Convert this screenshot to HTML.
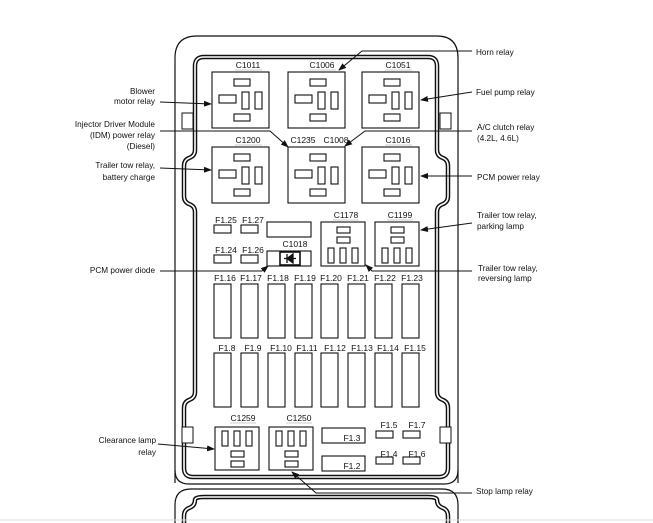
<!DOCTYPE html>
<html><head><meta charset="utf-8"><style>
html,body{margin:0;padding:0;background:#fff;}
svg{display:block;font-family:"Liberation Sans",sans-serif;}
text{font-size:8.5px;fill:#111;}
.lb{font-size:8.2px;}
</style></head><body>
<svg width="653" height="523" viewBox="0 0 653 523">
<defs>
<marker id="a" markerWidth="8" markerHeight="6" refX="7" refY="3" orient="auto" markerUnits="userSpaceOnUse"><path d="M0,0 L8,3 L0,6 z" fill="#111"/></marker>
</defs>
<g fill="none" stroke="#111">
<path d="M175,483 V58 Q175,36 197,36 H437 Q458,36 458,58 V483" stroke-width="1.2"/>
<path d="M175,470 Q175,484 189,484 H444 Q458,484 458,470" stroke-width="1.2"/>
<path d="M204,57 H428 Q437,57 437,66 V150 Q437,156 443,158 Q448,160 448,166 V196 Q448,202 443,204 Q437,206 437,212 V392 Q437,398 443,400 Q448,402 448,408 V468 Q448,477 439,477 H193 Q184,477 184,468 V408 Q184,402 189,400 Q195,398 195,392 V212 Q195,206 189,204 Q184,202 184,196 V166 Q184,160 189,158 Q195,156 195,150 V66 Q195,57 204,57 Z" stroke-width="4.5"/>
<path d="M204,57 H428 Q437,57 437,66 V150 Q437,156 443,158 Q448,160 448,166 V196 Q448,202 443,204 Q437,206 437,212 V392 Q437,398 443,400 Q448,402 448,408 V468 Q448,477 439,477 H193 Q184,477 184,468 V408 Q184,402 189,400 Q195,398 195,392 V212 Q195,206 189,204 Q184,202 184,196 V166 Q184,160 189,158 Q195,156 195,150 V66 Q195,57 204,57 Z" stroke="#fff" stroke-width="1.6"/>
<path d="M175,523 V505 Q175,489 191,489 H442 Q458,489 458,505 V523" stroke-width="1.2"/>
<path d="M184,523 V516 Q184,510 189,508 Q195,506 195,500 Q195,497 204,497 H428 Q437,497 437,500 Q437,506 443,508 Q448,510 448,516 V523" stroke-width="4.5"/>
<path d="M184,523 V516 Q184,510 189,508 Q195,506 195,500 Q195,497 204,497 H428 Q437,497 437,500 Q437,506 443,508 Q448,510 448,516 V523" stroke="#fff" stroke-width="1.6"/>
<rect x="182" y="113" width="11" height="16" fill="#fff"/>
<rect x="440" y="113" width="11" height="16" fill="#fff"/>
<rect x="182" y="427" width="11" height="16" fill="#fff"/>
<rect x="440" y="427" width="11" height="16" fill="#fff"/>
</g>
<line x1="0" y1="520" x2="653" y2="520" stroke="#ddd" stroke-width="1"/>

<g fill="none" stroke="#111" stroke-width="1.1">
<g id="r1">
<rect x="212" y="72" width="57" height="56"/>
<rect x="234" y="79" width="16" height="7"/>
<rect x="219" y="95" width="17" height="8"/>
<rect x="242" y="92" width="7" height="17"/>
<rect x="255" y="92" width="7" height="17"/>
<rect x="234" y="114" width="16" height="7"/>
</g>
<use href="#r1" x="76" y="0"/>
<use href="#r1" x="150" y="0"/>
<use href="#r1" x="0" y="75"/>
<use href="#r1" x="76" y="75"/>
<use href="#r1" x="150" y="75"/>
<rect x="214" y="225" width="17" height="8"/>
<rect x="241" y="225" width="17" height="8"/>
<rect x="214" y="255" width="17" height="8"/>
<rect x="241" y="255" width="17" height="8"/>
<rect x="267" y="222" width="44" height="15"/>
<rect x="267" y="251" width="44" height="15"/>
<rect x="280" y="252" width="20" height="13" stroke-width="1.6"/>
<g id="r2">
<rect x="321" y="222" width="44" height="44"/>
<rect x="337" y="227" width="13" height="6"/>
<rect x="337" y="237" width="13" height="6"/>
<rect x="328" y="248" width="6" height="15"/>
<rect x="340" y="248" width="6" height="15"/>
<rect x="352" y="248" width="6" height="15"/>
</g>
<use href="#r2" x="54" y="0"/>
<g id="r3">
<rect x="215" y="427" width="44" height="43"/>
<rect x="222" y="431" width="6" height="15"/>
<rect x="234" y="431" width="6" height="15"/>
<rect x="246" y="431" width="6" height="15"/>
<rect x="231" y="451" width="13" height="6"/>
<rect x="231" y="461" width="13" height="6"/>
</g>
<use href="#r3" x="54" y="0"/>
<rect x="322" y="428" width="43" height="15"/>
<rect x="322" y="456" width="43" height="15"/>
<rect x="376" y="431" width="17" height="7"/>
<rect x="403" y="431" width="17" height="7"/>
<rect x="376" y="457" width="17" height="7"/>
<rect x="403" y="457" width="17" height="7"/>
<g id="fr">
<rect x="214" y="284" width="17" height="54"/>
<rect x="241" y="284" width="17" height="54"/>
<rect x="268" y="284" width="17" height="54"/>
<rect x="295" y="284" width="17" height="54"/>
<rect x="321" y="284" width="17" height="54"/>
<rect x="348" y="284" width="17" height="54"/>
<rect x="375" y="284" width="17" height="54"/>
<rect x="402" y="284" width="17" height="54"/>
</g>
<use href="#fr" x="0" y="69"/>
</g>
<path d="M284,258.5 H296 M293,254 L287,258.5 L293,263 Z M287,254 V263" stroke="#111" stroke-width="1.3" fill="#111"/>

<g text-anchor="middle">
<text x="248" y="68">C1011</text><text x="322" y="68">C1006</text><text x="398" y="68">C1051</text>
<text x="248" y="143">C1200</text><text x="303" y="143">C1235</text><text x="336" y="143">C1008</text><text x="398" y="143">C1016</text>
<text x="226" y="223">F1.25</text><text x="253" y="223">F1.27</text>
<text x="226" y="253">F1.24</text><text x="253" y="253">F1.26</text>
<text x="295" y="247">C1018</text>
<text x="346" y="218">C1178</text><text x="400" y="218">C1199</text>
<text x="225" y="281">F1.16</text><text x="251" y="281">F1.17</text><text x="278" y="281">F1.18</text><text x="305" y="281">F1.19</text><text x="331" y="281">F1.20</text><text x="358" y="281">F1.21</text><text x="385" y="281">F1.22</text><text x="412" y="281">F1.23</text>
<text x="227" y="351">F1.8</text><text x="253" y="351">F1.9</text><text x="281" y="351">F1.10</text><text x="307" y="351">F1.11</text><text x="335" y="351">F1.12</text><text x="362" y="351">F1.13</text><text x="388" y="351">F1.14</text><text x="415" y="351">F1.15</text>
<text x="243" y="421">C1259</text><text x="299" y="421">C1250</text>
<text x="352" y="441">F1.3</text><text x="352" y="469">F1.2</text>
<text x="389" y="428">F1.5</text><text x="417" y="428">F1.7</text>
<text x="389" y="457">F1.4</text><text x="417" y="457">F1.6</text>
</g>
<g stroke="#999" stroke-width="0.6">
<line x1="235" y1="70" x2="262" y2="70"/><line x1="309" y1="70" x2="336" y2="70"/><line x1="385" y1="70" x2="412" y2="70"/>
<line x1="235" y1="145" x2="262" y2="145"/><line x1="385" y1="145" x2="412" y2="145"/>
<line x1="333" y1="220" x2="359" y2="220"/><line x1="387" y1="220" x2="413" y2="220"/>
<line x1="230" y1="423" x2="256" y2="423"/><line x1="286" y1="423" x2="312" y2="423"/>
</g>

<g stroke="#111" stroke-width="1" fill="none">
<line x1="160" y1="102" x2="211" y2="104" marker-end="url(#a)"/>
<polyline points="160,131 270,131 288,147" marker-end="url(#a)"/>
<line x1="160" y1="168" x2="211" y2="170" marker-end="url(#a)"/>
<polyline points="160,271 262,271 268,266" marker-end="url(#a)"/>
<line x1="158" y1="444" x2="214" y2="449" marker-end="url(#a)"/>
<polyline points="472,51 362,51 339,70" marker-end="url(#a)"/>
<line x1="472" y1="92" x2="421" y2="100" marker-end="url(#a)"/>
<polyline points="472,131 365,131 345,146" marker-end="url(#a)"/>
<line x1="472" y1="176" x2="421" y2="176" marker-end="url(#a)"/>
<line x1="472" y1="223" x2="421" y2="230" marker-end="url(#a)"/>
<polyline points="472,271 372,271 366,265" marker-end="url(#a)"/>
<polyline points="472,493 316,493 292,472" marker-end="url(#a)"/>
</g>
<g text-anchor="end">
<text x="155" y="94" class="lb">Blower</text><text x="155" y="104" class="lb">motor relay</text>
<text x="155" y="127" class="lb">Injector Driver Module</text><text x="155" y="138" class="lb">(IDM) power relay</text><text x="155" y="149" class="lb">(Diesel)</text>
<text x="155" y="168" class="lb">Trailer tow relay,</text><text x="155" y="180" class="lb">battery charge</text>
<text x="155" y="273" class="lb">PCM power diode</text>
<text x="156" y="443" class="lb">Clearance lamp</text><text x="156" y="455" class="lb">relay</text>
</g>
<g text-anchor="start">
<text x="476" y="55" class="lb">Horn relay</text>
<text x="476" y="95" class="lb">Fuel pump relay</text>
<text x="477" y="130" class="lb">A/C clutch relay</text><text x="477" y="141" class="lb">(4.2L, 4.6L)</text>
<text x="477" y="180" class="lb">PCM power relay</text>
<text x="477" y="218" class="lb">Trailer tow relay,</text><text x="477" y="229" class="lb">parking lamp</text>
<text x="478" y="271" class="lb">Trailer tow relay,</text><text x="478" y="281" class="lb">reversing lamp</text>
<text x="476" y="494" class="lb">Stop lamp relay</text>
</g>
</svg>
</body></html>
